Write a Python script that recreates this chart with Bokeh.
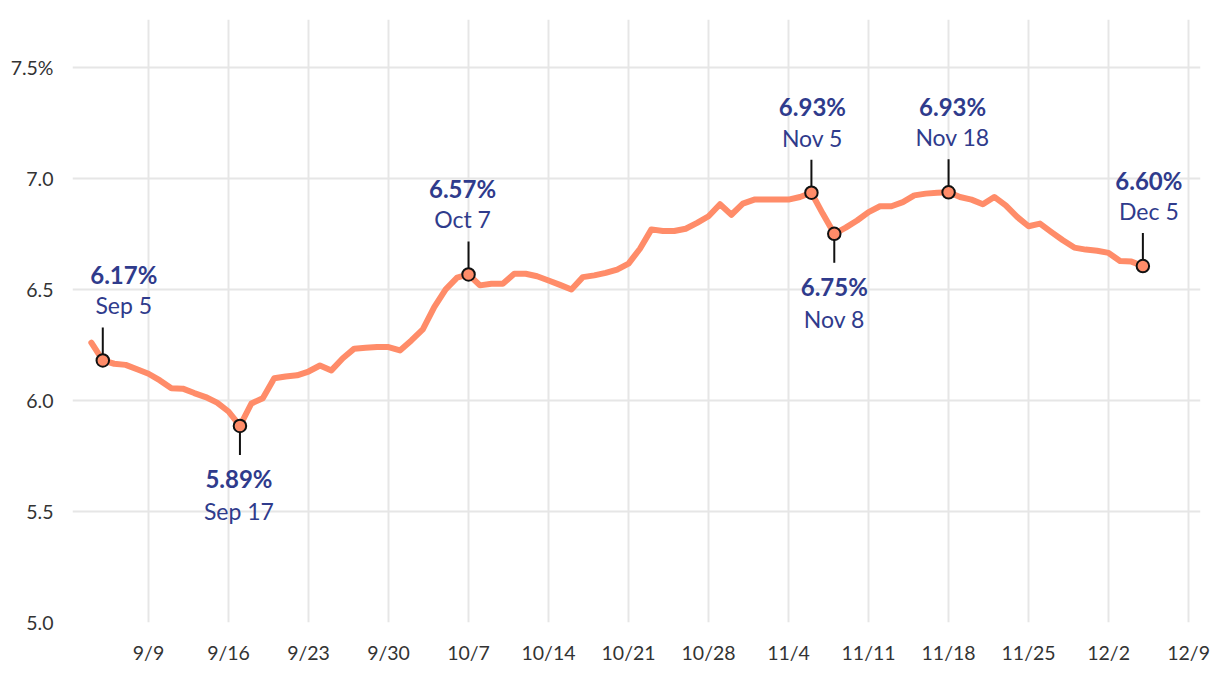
import pandas as pd
from bokeh.plotting import figure
from bokeh.models import ColumnDataSource, Range1d, FixedTicker
from bokeh.core.properties import value
from bokeh.embed import file_html
from bokeh.resources import INLINE

# ---------------- data ----------------
start_date = "2024-09-04"
end_date = "2024-12-05"
rates = [
    # Sep 4 - Sep 30
    6.26, 6.18, 6.165, 6.16, 6.14, 6.12, 6.09, 6.055, 6.053, 6.033, 6.015, 5.99, 5.95,
    5.885, 5.986, 6.01, 6.10, 6.108, 6.113, 6.13, 6.157, 6.135, 6.19, 6.233, 6.237, 6.24, 6.24,
    # Oct 1 - Oct 31
    6.225, 6.27, 6.32, 6.42, 6.50, 6.553, 6.567, 6.518, 6.525, 6.525, 6.57, 6.57, 6.559,
    6.54, 6.52, 6.499, 6.555, 6.563, 6.574, 6.589, 6.616, 6.683, 6.77, 6.763, 6.763, 6.773,
    6.799, 6.829, 6.883, 6.836, 6.886,
    # Nov 1 - Nov 30
    6.904, 6.904, 6.904, 6.904, 6.916, 6.935, 6.84, 6.75, 6.778, 6.81, 6.848, 6.874, 6.874,
    6.893, 6.923, 6.931, 6.935, 6.937, 6.916, 6.904, 6.883, 6.916, 6.878, 6.826, 6.784,
    6.796, 6.758, 6.721, 6.688, 6.679,
    # Dec 1 - Dec 5
    6.674, 6.664, 6.628, 6.625, 6.605,
]

ann_dates = ["2024-09-05", "2024-09-17", "2024-10-07", "2024-11-06", "2024-11-08", "2024-11-18", "2024-12-05"]
ann_rate_labels = ["6.17%", "5.89%", "6.57%", "6.93%", "6.75%", "6.93%", "6.60%"]
ann_date_labels = ["Sep 5", "Sep 17", "Oct 7", "Nov 5", "Nov 8", "Nov 18", "Dec 5"]
ann_side = ["above", "below", "above", "above", "below", "above", "above"]

x_tick_dates = ["2024-09-09", "2024-09-16", "2024-09-23", "2024-09-30", "2024-10-07", "2024-10-14",
                "2024-10-21", "2024-10-28", "2024-11-04", "2024-11-11", "2024-11-18", "2024-11-25",
                "2024-12-02", "2024-12-09"]
x_tick_labels = ["9/9", "9/16", "9/23", "9/30", "10/7", "10/14", "10/21", "10/28", "11/4",
                 "11/11", "11/18", "11/25", "12/2", "12/9"]
y_ticks = [5.0, 5.5, 6.0, 6.5, 7.0, 7.5]
y_tick_labels = ["5.0", "5.5", "6.0", "6.5", "7.0", "7.5%"]

# ---------------- styles ----------------
LINE_COLOR = "#ff8c69"
TEXT_COLOR = "#2f3b8c"
GRID_COLOR = "#e6e6e6"
FONT = "Lato"
label_dx = [21, -1, -6, 1, 0, 4, 6]

def ms(d):
    return pd.Timestamp(d).value // 10**6

dates = pd.date_range(start_date, end_date, freq="D")
series = pd.Series(rates, index=dates)

x_start = ms("2024-09-02") + 8.4 * 3600 * 1000
x_end = ms("2024-12-10") + 1 * 3600 * 1000
y_start, y_end = 5.0, 7.715

W, H = 1212, 666
b_left, b_right, b_top, b_bottom = 72, 12, 19, 43
plot_h = H - b_top - b_bottom
px_per_unit = plot_h / (y_end - y_start)

p = figure(width=W, height=H, x_axis_type="datetime",
           x_range=Range1d(x_start, x_end), y_range=Range1d(y_start, y_end),
           output_backend="svg", toolbar_location=None,
           min_border_left=b_left, min_border_right=b_right,
           min_border_top=b_top, min_border_bottom=b_bottom)
p.outline_line_color = None
p.background_fill_color = "white"

x_ticks = [ms(d) for d in x_tick_dates]
p.xaxis.ticker = FixedTicker(ticks=x_ticks)
p.xaxis.major_label_overrides = {t: l for t, l in zip(x_ticks, x_tick_labels)}
p.yaxis.ticker = FixedTicker(ticks=y_ticks)
p.yaxis.major_label_overrides = {t: l for t, l in zip(y_ticks, y_tick_labels)}
p.xgrid.ticker = FixedTicker(ticks=x_ticks)
p.ygrid.ticker = FixedTicker(ticks=y_ticks)

for ax in (p.xaxis, p.yaxis):
    ax.axis_line_color = None
    ax.major_tick_line_color = None
    ax.minor_tick_line_color = None
    ax.major_label_text_font = FONT
    ax.major_label_text_font_size = "19.5px"
    ax.major_label_text_color = "#333333"
p.xaxis.major_label_standoff = 12
p.yaxis.major_label_standoff = 13

for g in (p.xgrid, p.ygrid):
    g.grid_line_color = GRID_COLOR
    g.grid_line_width = 2

p.line(x=dates, y=rates, line_color=LINE_COLOR, line_width=6,
       line_join="round", line_cap="round")

ax_dates = pd.to_datetime(ann_dates)
ax_vals = [series[d] for d in ax_dates]
stem_end, dy_rate, dy_date = [], [], []
for v, side in zip(ax_vals, ann_side):
    if side == "above":
        stem_end.append(v + 33 / px_per_unit)
        dy_rate.append(-86)
        dy_date.append(-55)
    else:
        stem_end.append(v - 29 / px_per_unit)
        dy_rate.append(53)
        dy_date.append(85)

src = ColumnDataSource(dict(x=ax_dates, y=ax_vals, y1=stem_end,
                            rate=ann_rate_labels, date=ann_date_labels,
                            dx=label_dx, dyr=dy_rate, dyd=dy_date))

p.segment(x0="x", y0="y", x1="x", y1="y1", source=src, line_color="#111111", line_width=2)
p.scatter(x="x", y="y", source=src, size=12.5, fill_color=LINE_COLOR,
          line_color="#111111", line_width=2)
p.text(x="x", y="y", text="rate", source=src, x_offset="dx", y_offset="dyr",
       text_align="center", text_baseline="middle", text_font=value(FONT),
       text_font_style="bold", text_font_size="24px", text_color=TEXT_COLOR)
p.text(x="x", y="y", text="date", source=src, x_offset="dx", y_offset="dyd",
       text_align="center", text_baseline="middle", text_font=value(FONT),
       text_font_size="23px", text_color=TEXT_COLOR)

open("out.html", "w").write(file_html(p, INLINE))
